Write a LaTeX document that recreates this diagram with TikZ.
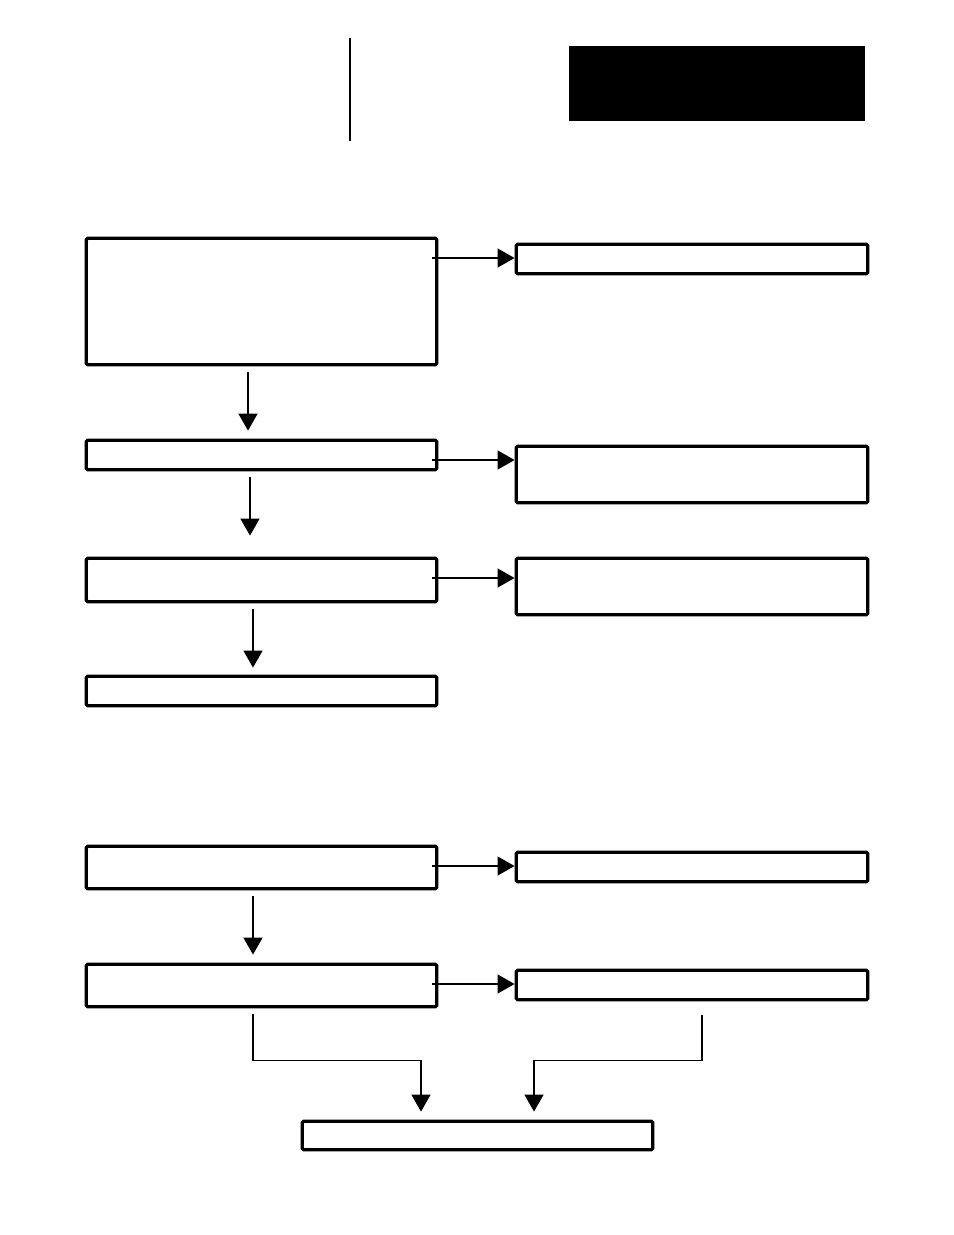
\documentclass[tikz,border=0pt]{standalone}
\usetikzlibrary{arrows.meta,calc}
\begin{document}
\begin{tikzpicture}[
    box/.style={draw,line width=1.9pt,rounded corners=0.8pt,inner sep=0pt,minimum width=7.01cm},
    flow/.style={line width=1pt,-{Triangle[width=0.38cm,length=0.34cm]}},
    side/.style={flow,line width=0.8pt}]
  \useasboundingbox (0,0) rectangle (19.08,-24.70);
  % header
  \fill (11.38,-0.92) rectangle (17.30,-2.42);
  \draw[line width=0.8pt] (7.00,-0.76) -- (7.00,-2.82);
  % left column
  \node[box,minimum height=2.53cm] (A) at (5.23,-6.03) {};
  \node[box,minimum height=0.59cm] (B) at (5.23,-9.10) {};
  \node[box,minimum height=0.87cm] (C) at (5.23,-11.60) {};
  \node[box,minimum height=0.59cm] (D) at (5.23,-13.82) {};
  \node[box,minimum height=0.85cm] (E) at (5.23,-17.35) {};
  \node[box,minimum height=0.85cm] (F) at (5.23,-19.71) {};
  % right column
  \node[box,minimum width=7.03cm,minimum height=0.59cm] (R1) at (13.84,-5.18) {};
  \node[box,minimum width=7.03cm,minimum height=1.13cm] (R2) at (13.84,-9.49) {};
  \node[box,minimum width=7.03cm,minimum height=1.13cm] (R3) at (13.84,-11.73) {};
  \node[box,minimum width=7.03cm,minimum height=0.59cm] (R4) at (13.84,-17.34) {};
  \node[box,minimum width=7.03cm,minimum height=0.59cm] (R5) at (13.84,-19.70) {};
  % bottom
  \node[box,minimum height=0.57cm] (G) at (9.55,-22.71) {};
  % side arrows
  \foreach \a/\b/\dy in {A/R1/0.02,B/R2/0.29,C/R3/0.17,E/R4/0.02,F/R5/0.02} {
    \coordinate (in\b) at ([yshift=\dy cm]\b.west);
    \draw[side] ($(\a.east |- in\b)+(-0.12,0)$) -- (in\b);
  }
  % down arrows
  \draw[flow] ([shift={(-0.27,-0.12)}]A.south) -- ([shift={(-0.27,0.16)}]B.north);
  \draw[flow] ([shift={(-0.23,-0.12)}]B.south) -- ([shift={(-0.23,0.42)}]C.north);
  \draw[flow] ([shift={(-0.17,-0.12)}]C.south) -- ([shift={(-0.17,0.14)}]D.north);
  \draw[flow] ([shift={(-0.17,-0.12)}]E.south) -- ([shift={(-0.17,0.16)}]F.north);
  % merge into G
  \coordinate (jl) at ([shift={(-1.13,1.18)}]G.north);
  \coordinate (jr) at ([shift={(1.13,1.18)}]G.north);
  \draw[flow] ([shift={(-0.17,-0.12)}]F.south) |- (jl) -- ([shift={(-1.13,0.16)}]G.north);
  \draw[flow] ([shift={(0.2,-0.28)}]R5.south) |- (jr) -- ([shift={(1.13,0.16)}]G.north);
\end{tikzpicture}
\end{document}
